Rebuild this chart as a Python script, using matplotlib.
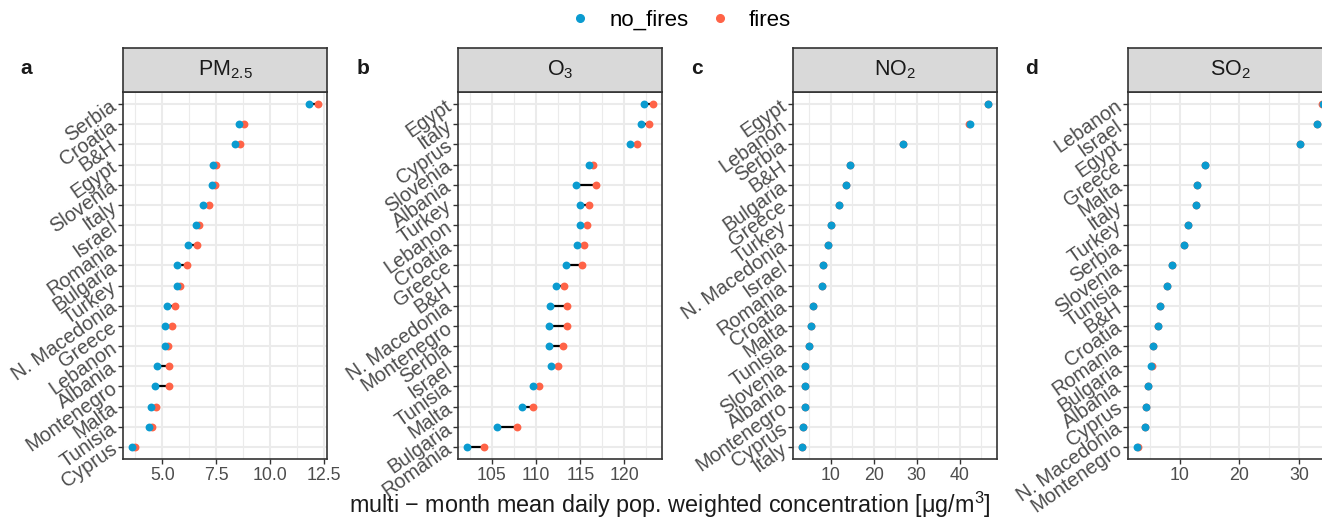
import numpy as np
import matplotlib
matplotlib.use("Agg")
import matplotlib.pyplot as plt
from matplotlib.lines import Line2D
from matplotlib.ticker import MultipleLocator

plt.rcParams['font.family'] = ['Liberation Sans', 'DejaVu Sans']
plt.rcParams['mathtext.fontset'] = 'custom'
plt.rcParams['mathtext.rm'] = 'Liberation Sans'
plt.rcParams['mathtext.it'] = 'Liberation Sans:italic'
plt.rcParams['mathtext.default'] = 'regular'

# PM2.5
pm_countries = ["Serbia", "Croatia", "B&H", "Egypt", "Slovenia", "Italy", "Israel", "Romania",
                "Bulgaria", "Turkey", "N. Macedonia", "Greece", "Lebanon", "Albania",
                "Montenegro", "Malta", "Tunisia", "Cyprus"]
pm_no_fires = [11.82, 8.56, 8.37, 7.34, 7.29, 6.90, 6.58, 6.21, 5.70, 5.67, 5.20, 5.11, 5.14,
               4.77, 4.68, 4.49, 4.37, 3.61]
pm_fires = [12.22, 8.79, 8.62, 7.48, 7.43, 7.18, 6.70, 6.62, 6.16, 5.82, 5.59, 5.46, 5.26,
            5.32, 5.32, 4.71, 4.51, 3.73]

# O3
o3_countries = ["Egypt", "Italy", "Cyprus", "Slovenia", "Albania", "Turkey", "Lebanon", "Croatia",
                "Greece", "B&H", "N. Macedonia", "Montenegro", "Serbia", "Israel", "Tunisia",
                "Malta", "Bulgaria", "Romania"]
o3_no_fires = [122.27, 121.85, 120.64, 115.96, 114.52, 114.94, 114.97, 114.60, 113.39, 112.22,
               111.54, 111.42, 111.46, 111.69, 109.65, 108.36, 105.57, 102.20]
o3_fires = [123.21, 122.83, 121.43, 116.45, 116.79, 115.96, 115.77, 115.39, 115.20, 113.20,
            113.54, 113.50, 113.05, 112.52, 110.36, 109.61, 107.83, 104.13]

# NO2
no2_countries = ["Egypt", "Lebanon", "Serbia", "B&H", "Bulgaria", "Greece", "Turkey",
                 "N. Macedonia", "Israel", "Romania", "Croatia", "Malta", "Tunisia", "Slovenia",
                 "Albania", "Montenegro", "Cyprus", "Italy"]
no2_no_fires = [46.5, 42.33, 26.86, 14.41, 13.48, 12.01, 10.0, 9.30, 8.22, 8.07, 5.82, 5.36,
                4.90, 4.12, 4.12, 4.12, 3.66, 3.43]
no2_fires = [46.5, 42.15, 26.86, 14.41, 13.48, 12.01, 10.0, 9.30, 8.22, 8.07, 5.82, 5.36,
             4.90, 4.12, 4.12, 4.12, 3.66, 3.43]

# SO2
so2_countries = ["Lebanon", "Israel", "Egypt", "Greece", "Malta", "Italy", "Turkey", "Serbia",
                 "Slovenia", "Tunisia", "B&H", "Croatia", "Romania", "Bulgaria", "Albania",
                 "Cyprus", "N. Macedonia", "Montenegro"]
so2_no_fires = [33.9, 33.0, 30.06, 14.29, 12.95, 12.67, 11.34, 10.78, 8.66, 7.83, 6.71, 6.32,
                5.54, 5.21, 4.76, 4.32, 4.21, 2.93]
so2_fires = [33.75, 33.0, 30.06, 14.29, 12.95, 12.67, 11.34, 10.78, 8.66, 7.83, 6.71, 6.32,
             5.54, 5.32, 4.76, 4.32, 4.21, 3.08]

panels = [
    ("a", r"PM$_{2.5}$", pm_countries, pm_no_fires, pm_fires, 2.5),
    ("b", r"O$_3$", o3_countries, o3_no_fires, o3_fires, 5),
    ("c", r"NO$_2$", no2_countries, no2_no_fires, no2_fires, 10),
    ("d", r"SO$_2$", so2_countries, so2_no_fires, so2_fires, 10),
]

col_no = "#0A9BD0"
col_fi = "#FF6347"
dark = "#333333"
grid_col = "#EBEBEB"

W, H = 1322, 520
fig = plt.figure(figsize=(W / 100, H / 100), dpi=100)

ax_lefts = [123, 458, 793, 1128]
ax_w = 204
ax_top, ax_bot = 92, 459
strip_top = 48
letter_x = [26, 363, 697, 1031]

for (letter, title, countries, nf, fi, step), left, lx in zip(panels, ax_lefts, letter_x):
    ax = fig.add_axes([left / W, 1 - ax_bot / H, ax_w / W, (ax_bot - ax_top) / H])
    n = len(countries)
    y = np.arange(n)[::-1]
    nf = np.array(nf)
    fi = np.array(fi)

    # segment between the two scenarios, then fires under no_fires
    ax.hlines(y, nf, fi, color="black", lw=1.6, zorder=2)
    ax.scatter(fi, y, s=32, color=col_fi, zorder=3, linewidths=0)
    ax.scatter(nf, y, s=32, color=col_no, zorder=4, linewidths=0)

    lo = min(nf.min(), fi.min())
    hi = max(nf.max(), fi.max())
    pad = (hi - lo) * 0.05
    ax.set_xlim(lo - pad, hi + pad)
    ax.set_ylim(-0.6, n - 0.4)

    ax.xaxis.set_major_locator(MultipleLocator(step))
    ax.xaxis.set_minor_locator(MultipleLocator(step / 2))
    if step == 2.5:
        ax.xaxis.set_major_formatter(matplotlib.ticker.FormatStrFormatter("%.1f"))
    ax.set_yticks(y)
    ax.set_yticklabels(countries, rotation=35, ha="right", va="center",
                       rotation_mode="anchor", fontsize=14.3, color="#4D4D4D")

    ax.grid(True, which="major", color=grid_col, lw=1.5, zorder=0)
    ax.grid(True, which="minor", axis="x", color=grid_col, lw=0.8, zorder=0)
    ax.set_axisbelow(True)
    ax.tick_params(axis="both", which="major", length=3.5, width=1.0, color=dark,
                   labelcolor="#4D4D4D", pad=2.5)
    ax.tick_params(axis="x", which="major", labelsize=12.8)
    ax.tick_params(axis="x", which="minor", length=0)
    for sp in ax.spines.values():
        sp.set_color(dark)
        sp.set_linewidth(1.2)

    # facet strip
    sax = fig.add_axes([left / W, 1 - ax_top / H, ax_w / W, (ax_top - strip_top) / H])
    sax.set_facecolor("#D9D9D9")
    sax.set_xticks([])
    sax.set_yticks([])
    for sp in sax.spines.values():
        sp.set_color(dark)
        sp.set_linewidth(1.2)
    sax.text(0.5, 0.5, title, ha="center", va="center", fontsize=15.5, color="#1A1A1A",
             transform=sax.transAxes)

    fig.text(lx / W, 1 - 68 / H, letter, ha="center", va="center", fontsize=15,
             fontweight="bold", color="#1A1A1A")

fig.text(670 / W, 1 - 505 / H,
         r"multi $-$ month mean daily pop. weighted concentration [$\mu$g/m$^3$]",
         ha="center", va="center", fontsize=16.8, color="#1A1A1A")

handles = [Line2D([], [], marker="o", ls="none", color=col_no, markersize=5.5, label="no_fires"),
           Line2D([], [], marker="o", ls="none", color=col_fi, markersize=5.5, label="fires")]
fig.legend(handles=handles, loc="center", bbox_to_anchor=(680 / W, 1 - 20 / H), ncol=2,
           frameon=False, fontsize=16, handletextpad=0.8, columnspacing=0.9,
           handlelength=1.0)

fig.savefig("out.png", dpi=100)
